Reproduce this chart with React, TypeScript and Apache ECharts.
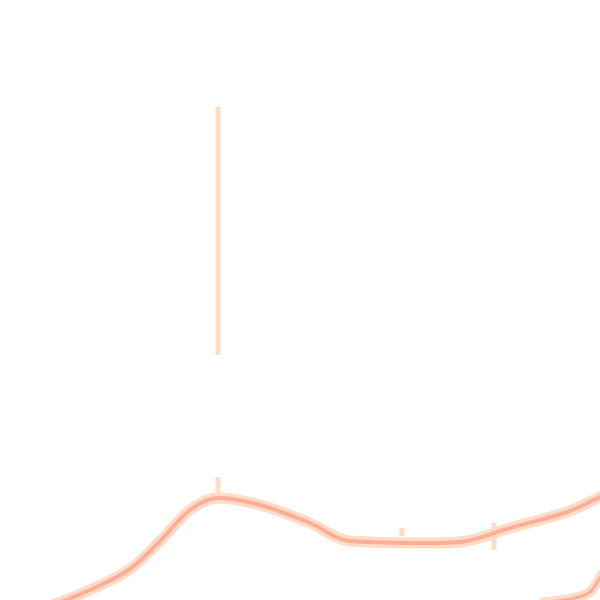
import React, { useEffect, useRef } from "react";
import * as echarts from "echarts";

// main curve (x, y in picture units, y grows downward)
const curveX = [50, 90, 130, 163, 190, 218, 260, 310, 350, 433, 467, 510, 567, 600, 615];
const curveY = [606, 590, 569, 538, 510, 498, 505, 523, 541, 543, 541, 528, 512, 497, 490];

// second curve entering at the bottom right
const curve2X = [540, 575, 590, 600, 608];
const curve2Y = [603, 598, 592, 578, 566];

// vertical strokes: [x, yTop, yBottom]
const stickX = [218, 218, 402, 494];
const stickTop = [107, 477, 528, 523];
const stickBottom = [355, 495, 536, 550];

const toPairs = (xs: number[], ys: number[]) => xs.map((x, i) => [x, ys[i]]);

const App: React.FC = () => {
  const chartRef = useRef<HTMLDivElement | null>(null);

  useEffect(() => {
    if (!chartRef.current) return;
    const chart = echarts.init(chartRef.current, undefined, { renderer: "svg" });

    const sticks: (number[] | null)[] = [];
    stickX.forEach((x, i) => {
      sticks.push([x, stickTop[i]], [x, stickBottom[i]], null);
    });

    const glow = "#ffdcc6";
    const core = "#fcae98";

    const option = {
      animation: false,
      grid: { left: 0, top: 0, width: 600, height: 600 },
      xAxis: { type: "value", min: 0, max: 600, show: false },
      yAxis: { type: "value", min: 0, max: 600, inverse: true, show: false },
      series: [
        {
          type: "line",
          data: sticks,
          connectNulls: false,
          showSymbol: false,
          lineStyle: { color: glow, width: 5, cap: "butt" },
        },
        {
          type: "line",
          smooth: 0.35,
          data: toPairs(curveX, curveY),
          showSymbol: false,
          lineStyle: { color: glow, width: 11 },
        },
        {
          type: "line",
          smooth: 0.35,
          data: toPairs(curveX, curveY),
          showSymbol: false,
          lineStyle: { color: core, width: 4 },
        },
        {
          type: "line",
          smooth: 0.35,
          data: toPairs(curve2X, curve2Y),
          showSymbol: false,
          lineStyle: { color: glow, width: 10 },
        },
        {
          type: "line",
          smooth: 0.35,
          data: toPairs(curve2X, curve2Y),
          showSymbol: false,
          lineStyle: { color: core, width: 3 },
        },
      ],
    };

    chart.setOption(option);
    return () => {
      chart.dispose();
    };
  }, []);

  return (
    <div
      ref={chartRef}
      style={{ position: "fixed", left: 0, top: 0, width: "600px", height: "600px", background: "#fff" }}
    />
  );
};

export default App;
